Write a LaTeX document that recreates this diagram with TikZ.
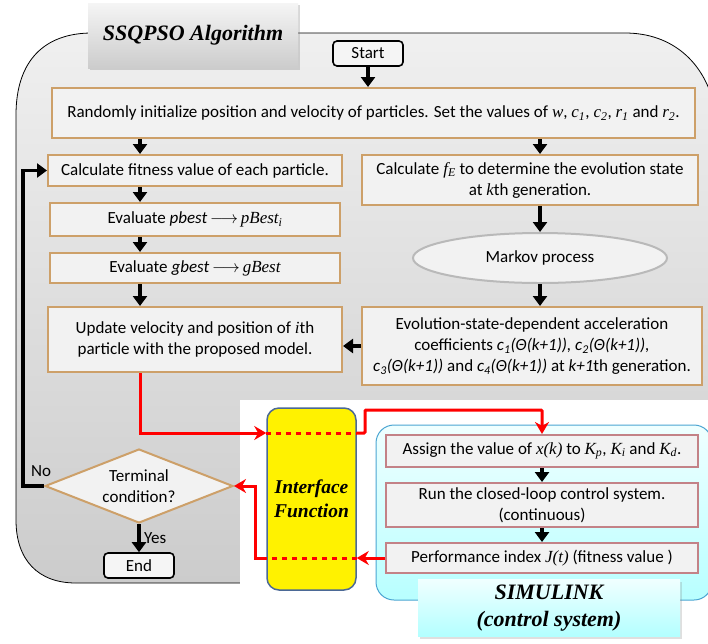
\documentclass[tikz,border=0pt]{standalone}
\usepackage{fontspec}
\setmainfont{Carlito}
\newfontfamily\serifb{Liberation Serif}
\newcommand\mv[1]{{\serifb\itshape #1}}
\usetikzlibrary{shapes.geometric,arrows.meta,shadows}
\definecolor{boxedge}{RGB}{205,160,105}
\definecolor{simedge}{RGB}{195,130,135}
\definecolor{panelblue}{RGB}{75,165,210}
\definecolor{ifedge}{RGB}{75,105,150}
\begin{document}
\begin{tikzpicture}[x=1pt,y=-1pt,>={Triangle[length=10pt,width=14pt]},
  blk/.style={line width=3.5pt,->},
  redarr/.style={red,line width=3pt,-{Stealth[length=12pt,width=14pt]}},
  reddot/.style={red,line width=3pt,dash pattern=on 5pt off 5pt},
  box/.style={draw=boxedge,line width=2pt,fill=gray!10,inner sep=2pt,align=center,font=\fontsize{17}{21}\selectfont},
  simbox/.style={box,draw=simedge},
  termbox/.style={draw=black,line width=1.6pt,rounded corners=4pt,fill=gray!8,minimum width=70pt,minimum height=25pt,font=\fontsize{17}{20}\selectfont},
  bigtitle/.style={font=\serifb\bfseries\itshape\fontsize{22}{25}\selectfont}]
\clip (0,0) rectangle (708,643);
\fill[white] (0,0) rectangle (708,643);
% gray panel of the algorithm
\draw[line width=.8pt,top color=gray!12,bottom color=gray!40] (16,520) -- (16,115) .. controls (16,60) and (45,33) .. (92,33)
  -- (625,33) .. controls (672,33) and (704,62) .. (714,105) -- (714,583) -- (76,583) .. controls (38,583) and (16,560) .. (16,520) -- cycle;
\node[bigtitle,top color=gray!8,bottom color=gray!40,drop shadow={opacity=.3},minimum width=210pt,minimum height=65pt] (title) at (193,35.5) {SSQPSO Algorithm};
\fill[white] (240,400) rectangle (708,643);
\coordinate (lc) at (140,0);
\coordinate (rc) at (540,0);
\node[termbox] (start) at (368,53.5) {Start};
\node[box,minimum width=643pt,minimum height=50pt] (init) at (373.5,113)
  {Randomly initialize position and velocity of particles. Set the values of \mv{w}, \mv{c\textsubscript{1}}, \mv{c\textsubscript{2}}, \mv{r\textsubscript{1}} and \mv{r\textsubscript{2}}.};
\node[box,minimum width=294pt,minimum height=31pt] (fit) at (195,170.5) {Calculate fitness value of each particle.};
\node[box,minimum width=290pt,minimum height=33pt] (pb) at (195,219.5) {Evaluate \textit{pbest}\,$\longrightarrow$\,\mv{pBest\textsubscript{i}}};
\node[box,minimum width=290pt,minimum height=30pt] (gb) at (195,268) {Evaluate \textit{gbest}\,$\longrightarrow$\,\mv{gBest}};
\node[box,minimum width=294pt,minimum height=65pt] (upd) at (195,339.5) {Update velocity and position of \mv{i}th\\particle with the proposed model.};
\node[box,minimum width=336pt,minimum height=50pt] (fe) at (530,180) {Calculate \mv{f\textsubscript{E}} to determine the evolution state\\at \mv{k}th generation.};
\node[box,ellipse,draw=gray!55,minimum width=254pt,minimum height=50pt] (markov) at (540,258) {Markov process};
\node[box,minimum width=340pt,minimum height=78pt] (evo) at (532,346) {Evolution-state-dependent acceleration\\
  coefficients \textit{c\textsubscript{1}(Θ(k+1)), c\textsubscript{2}(Θ(k+1)),}\\
  \textit{c\textsubscript{3}(Θ(k+1))} and \textit{c\textsubscript{4}(Θ(k+1))} at \textit{k+1}th generation.};
\node[box,diamond,aspect=2.5,inner sep=0pt,minimum width=188pt,minimum height=74pt] (term) at (139,486) {Terminal\\condition?};
\node[termbox] (end) at (139,565.5) {End};
\node[font=\fontsize{17}{20}\selectfont] (no) at (41,471) {No};
% simulink side
\node[draw=panelblue,line width=1pt,rounded corners=18pt,top color=cyan!6,bottom color=cyan!28,minimum width=336pt,minimum height=175pt] (simpanel) at (544,512.5) {};
\node[simbox,minimum width=312pt,minimum height=32pt] (assign) at (542,451) {Assign the value of \mv{x(k)} to \mv{K\textsubscript{p}}, \mv{K\textsubscript{i}} and \mv{K\textsubscript{d}}.};
\node[simbox,minimum width=312pt,minimum height=44pt] (run) at (542,505) {Run the closed-loop control system.\\(continuous)};
\node[simbox,minimum width=312pt,minimum height=30pt] (perf) at (542,558) {Performance index \mv{J(t)} (fitness value )};
\node[top color=cyan!6,bottom color=cyan!30,drop shadow={opacity=.25},minimum width=262pt,minimum height=57pt,align=center,
  font=\serifb\bfseries\itshape\fontsize{22}{27}\selectfont] (simlabel) at (549,608) {SIMULINK\\(control system)};
\node[draw=ifedge,line width=1.5pt,fill=yellow,rounded corners=12pt,minimum width=89pt,minimum height=182pt,align=center,
  font=\serifb\bfseries\itshape\fontsize{19.5}{24}\selectfont] (iface) at (311.5,499) {Interface\\Function};
% black flow
\draw[blk] (start.south) -- (start.south |- init.north);
\draw[blk] (init.south -| lc) -- (fit.north -| lc);
\draw[blk] (fit.south -| lc) -- (pb.north -| lc);
\draw[blk] (pb.south -| lc) -- (gb.north -| lc);
\draw[blk] (gb.south -| lc) -- (upd.north -| lc);
\draw[blk] (init.south -| rc) -- (fe.north -| rc);
\draw[blk] (fe.south -| rc) -- (markov.north -| rc);
\draw[blk] (markov.south -| rc) -- (evo.north -| rc);
\draw[blk] (evo.west) -- (upd.east |- evo.west);
\draw[blk] (term.west) -- ++(-21,0) |- (fit.west);
\draw[blk] (term.south) -- (end.north) node[midway,right,font=\fontsize{17}{20}\selectfont]{Yes};
\draw[blk] (assign.south) -- (run.north);
\draw[blk] (run.south) -- (perf.north);
% red links through the interface
\coordinate (yin) at (0,433);
\coordinate (ytop) at (365,410);
\coordinate (xbk) at (255,0);
\draw[redarr] (upd.south -| lc) |- (iface.west |- yin);
\draw[reddot] (iface.west |- yin) -- (iface.east |- yin);
\draw[redarr,rounded corners=1pt] (iface.east |- yin) -- (ytop |- yin) -- (ytop) -| (assign.north);
\draw[redarr] (perf.west) -- (iface.east |- perf.west);
\draw[reddot] (iface.east |- perf.west) -- (iface.west |- perf.west);
\draw[redarr] (iface.west |- perf.west) -- (xbk |- perf.west) |- (term.east);
\end{tikzpicture}
\end{document}
